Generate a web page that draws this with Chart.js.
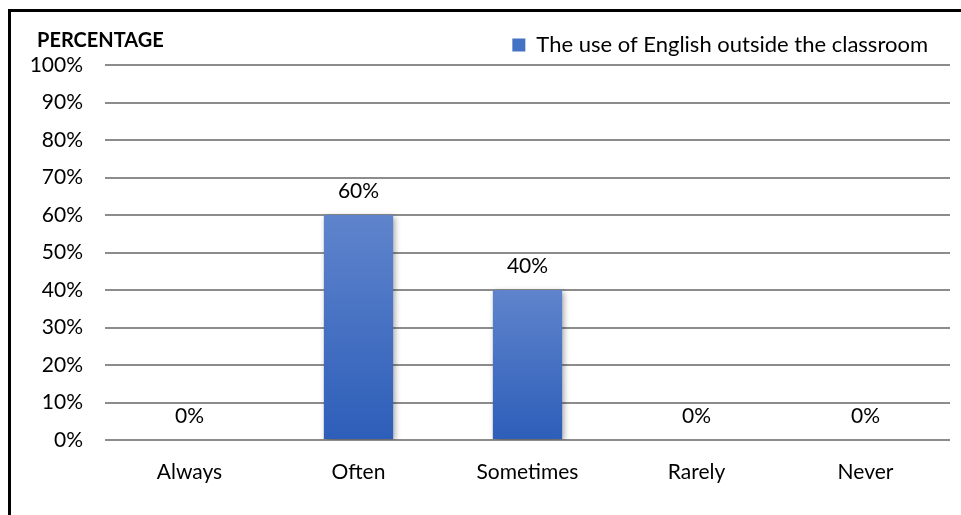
<!DOCTYPE html>
<html>
<head>
<meta charset="utf-8">
<script src="https://cdn.jsdelivr.net/npm/chart.js@4.4.0/dist/chart.umd.min.js"></script>
<style>
  html, body { margin: 0; padding: 0; background: #fff; }
  #wrap { width: 961px; height: 515px; position: relative; }
</style>
</head>
<body>
<div id="wrap"><canvas id="chart" width="961" height="515"></canvas></div>
<script>
const categories = ["Always", "Often", "Sometimes", "Rarely", "Never"];
const usePercent = [0, 60, 40, 0, 0];
const seriesName = "The use of English outside the classroom";
const yTicks = [0, 10, 20, 30, 40, 50, 60, 70, 80, 90, 100];

const FONT = "Lato, 'Liberation Sans', sans-serif";

function barGradient(ctx) {
    const chart = ctx.chart;
    const y = chart.scales.y;
    if (!y || ctx.raw === undefined) return '#4472C4';
    const top = y.getPixelForValue(ctx.raw);
    const bottom = y.getPixelForValue(0);
    if (!isFinite(top) || top === bottom) return '#4472C4';
    const g = chart.ctx.createLinearGradient(0, top, 0, bottom);
    g.addColorStop(0, '#5F84CC');
    g.addColorStop(1, '#2D5EB9');
    return g;
}

// frame, axis caption, value labels, bar shadow
const extras = {
    id: 'extras',
    beforeInit(chart) {
        const orig = chart.legend.fit;
        chart.legend.fit = function () {
            orig.call(this);
            this.height = 53;
        };
    },
    beforeDraw(chart) {
        const c = chart.ctx;
        c.save();
        c.fillStyle = '#fff';
        c.fillRect(0, 0, chart.width, chart.height);
        c.strokeStyle = '#000';
        c.lineWidth = 3;
        c.beginPath();
        c.moveTo(9.5, chart.height);
        c.lineTo(9.5, 10.5);
        c.lineTo(chart.width, 10.5);
        c.stroke();
        c.fillStyle = '#000';
        c.font = "bold 20px " + FONT;
        c.textBaseline = 'middle';
        c.fillText('PERCENTAGE', 37, 41);
        c.restore();
    },
    beforeDatasetsDraw(chart) {
        const c = chart.ctx;
        c.save();
        c.shadowColor = 'rgba(0,0,0,0.35)';
        c.shadowBlur = 6;
        c.shadowOffsetX = 2;
        c.shadowOffsetY = 2;
    },
    afterDatasetsDraw(chart) {
        const c = chart.ctx;
        c.restore();
        c.save();
        c.fillStyle = '#000';
        c.font = "21px " + FONT;
        c.textAlign = 'center';
        c.textBaseline = 'middle';
        chart.getDatasetMeta(0).data.forEach((bar, i) => {
            c.fillText(usePercent[i] + '%', bar.x, bar.y - 24);
        });
        c.restore();
    }
};

new Chart(document.getElementById('chart'), {
    type: 'bar',
    data: {
        labels: categories,
        datasets: [{
            label: seriesName,
            data: usePercent,
            backgroundColor: barGradient,
            borderWidth: 0,
            categoryPercentage: 1,
            barPercentage: 0.41
        }]
    },
    options: {
        responsive: false,
        animation: false,
        events: [],
        layout: { padding: { left: 10, right: 11, top: 12, bottom: 15 } },
        plugins: {
            legend: {
                position: 'top',
                align: 'end',
                labels: {
                    font: { family: FONT, size: 22 },
                    color: '#000',
                    boxWidth: 13,
                    boxHeight: 13,
                    padding: 22,
                    generateLabels: chart => [{
                        text: seriesName,
                        fillStyle: '#4472C4',
                        strokeStyle: '#4472C4',
                        lineWidth: 0,
                        datasetIndex: 0
                    }]
                }
            },
            tooltip: { enabled: false }
        },
        scales: {
            x: {
                grid: { display: false },
                border: { display: false },
                ticks: { color: '#000', font: { family: FONT, size: 21 }, padding: 12 },
                afterFit: s => { s.height = 60; }
            },
            y: {
                min: 0,
                max: 100,
                afterBuildTicks: s => { s.ticks = yTicks.map(v => ({ value: v })); },
                grid: { color: '#8c8c8c', lineWidth: 2, drawTicks: false },
                border: { display: false },
                ticks: {
                    color: '#000',
                    font: { family: FONT, size: 21 },
                    padding: 22,
                    callback: v => v + '%'
                },
                afterFit: s => { s.width = 95; }
            }
        }
    },
    plugins: [extras]
});
</script>
</body>
</html>
